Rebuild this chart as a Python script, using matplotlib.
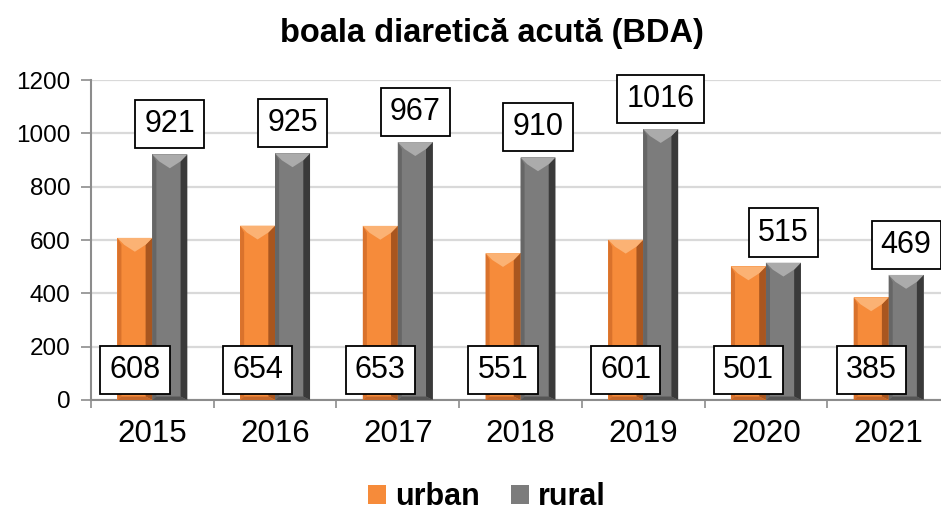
import matplotlib
matplotlib.use("Agg")
import matplotlib.pyplot as plt
from matplotlib.patches import Polygon
import numpy as np

years = ["2015", "2016", "2017", "2018", "2019", "2020", "2021"]
urban = [608, 654, 653, 551, 601, 501, 385]
rural = [921, 925, 967, 910, 1016, 515, 469]

plt.rcParams['font.family'] = ['Liberation Sans', 'DejaVu Sans']

fig = plt.figure(figsize=(9.41, 5.11), dpi=100)
# the plot area runs a little past the right edge, as in the original
ax = fig.add_axes([91 / 941, 1 - 400 / 511, 859 / 941, 320 / 511])

x = np.arange(len(years))
w = 0.285

# colours: face, top bevel, right bevel, left bevel, bottom bevel
orange = ['#F68B3A', '#FBB274', '#A9561F', '#D9722C', '#C4672A']
grey = ['#7C7C7C', '#ABABAB', '#3A3A3A', '#666666', '#555555']


def bevel_bars(xs, vals, cols, label):
    bars = ax.bar(xs, vals, w, color=cols[0], label=label, zorder=3)
    bx = 0.055
    by = 26
    for rect in bars:
        x0 = rect.get_x()
        x1 = x0 + rect.get_width()
        h = rect.get_height()
        top = [(x0, h), (x1, h), (x1 - bx, h - by), ((x0 + x1) / 2, h - by * 2.0), (x0 + bx, h - by)]
        right = [(x1, h), (x1, 0), (x1 - bx, by * 0.5), (x1 - bx, h - by)]
        left = [(x0, h), (x0 + bx * 0.6, h - by), (x0 + bx * 0.6, by * 0.5), (x0, 0)]
        bottom = [(x0, 0), (x1, 0), (x1 - bx, by * 0.5), (x0 + bx * 0.6, by * 0.5)]
        for pts, c in [(left, cols[3]), (right, cols[2]), (bottom, cols[4]), (top, cols[1])]:
            ax.add_patch(Polygon(pts, closed=True, facecolor=c, edgecolor='none', zorder=3.5))
    return bars


bevel_bars(x - w / 2, urban, orange, 'urban')
bevel_bars(x + w / 2, rural, grey, 'rural')

box = dict(boxstyle='square,pad=0.3', facecolor='white', edgecolor='black', linewidth=1.3)
for i in range(len(years)):
    ax.text(x[i] - w / 2, 113, str(urban[i]), ha='center', va='center', fontsize=22,
            bbox=box, zorder=5)
    ax.text(x[i] + w / 2, rural[i] + 113, str(rural[i]), ha='center', va='center',
            fontsize=22, bbox=box, zorder=5)

ax.set_xlim(-0.5, len(years) - 0.5)
ax.set_ylim(0, 1200)
ax.set_yticks(range(0, 1201, 200))
ax.set_xticks(x)
ax.set_xticklabels(years)
ax.set_xticks(np.arange(-0.5, len(years), 1), minor=True)
ax.tick_params(axis='x', which='major', length=0, labelsize=22.5, pad=14)
ax.tick_params(axis='x', which='minor', length=6, color='#8C8C8C', width=1.2)
ax.tick_params(axis='y', labelsize=17.5, length=7, color='#8C8C8C', width=1.2, pad=8)
ax.yaxis.grid(True, color='#D9D9D9', linewidth=1.6, zorder=0)
ax.set_axisbelow(True)
for s in ['top', 'right']:
    ax.spines[s].set_visible(False)
for s in ['left', 'bottom']:
    ax.spines[s].set_color('#8C8C8C')
    ax.spines[s].set_linewidth(1.5)

fig.suptitle('boala diaretică acută (BDA)', x=492 / 941, y=0.965, fontsize=23.5, fontweight='bold')
leg = fig.legend(loc='center', bbox_to_anchor=(487 / 941, 1 - 497 / 511), ncol=2, frameon=False,
                 prop={'size': 22, 'weight': 'bold'}, handlelength=0.6, handleheight=0.6,
                 handletextpad=0.3, columnspacing=1.0)

fig.savefig('out.png', dpi=100)
